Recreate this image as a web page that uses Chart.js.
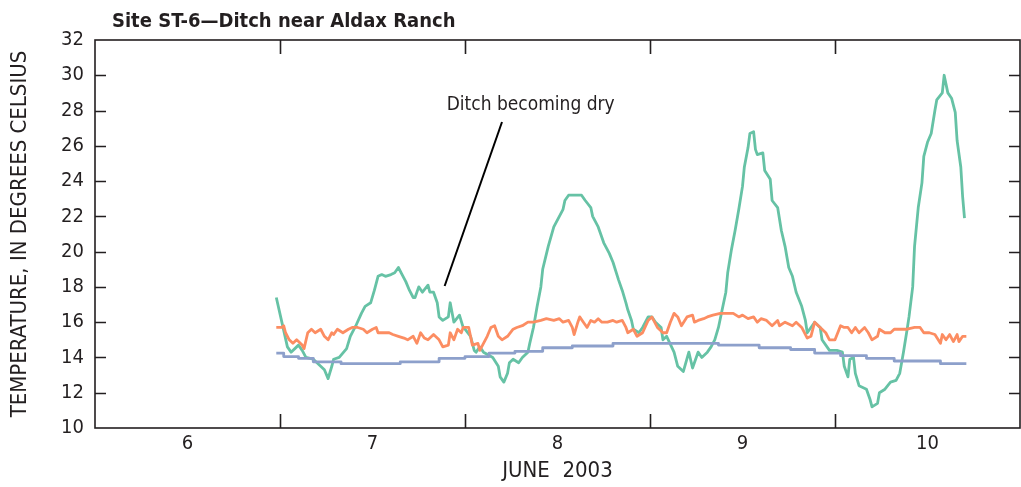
<!DOCTYPE html>
<html>
<head>
<meta charset="utf-8">
<title>Site ST-6 water temperature</title>
<script src="https://cdn.jsdelivr.net/npm/chart.js@4.4.1/dist/chart.umd.min.js"></script>
<style>
  html, body { margin: 0; padding: 0; background: #ffffff; overflow: hidden; }
  #wrap { width: 1021px; height: 487px; }
</style>
</head>
<body>
<div id="wrap"><canvas id="chart" width="1021" height="487"></canvas></div>
<script>
// ---- text ----
const chartTitle = 'Site ST-6\u2014Ditch near Aldax Ranch';
const xAxisTitle = 'JUNE  2003';
const yAxisTitle = 'TEMPERATURE, IN DEGREES CELSIUS';
const noteText = 'Ditch becoming dry';

// ---- axis ticks ----
const dayLabels = [6, 7, 8, 9, 10];          // labelled days (centred on each day)
const dayBoundaries = [6.5, 7.5, 8.5, 9.5];  // tick marks between days
const tempTicks = [10, 12, 14, 16, 18, 20, 22, 24, 26, 28, 30, 32];

// ---- note anchor (day, degrees C) ----
const noteAt = [7.855, 28.3];
const noteLineFrom = [7.70, 27.35];
const noteLineTo = [7.39, 18.05];

// ---- series A (green): day of June 2003, temperature in degrees C ----
const seriesADays = [
  6.48,6.51,6.54,6.56,6.59,6.60,6.62,6.64,6.68,6.74,
  6.76,6.78,6.79,6.82,6.86,6.88,6.91,6.94,6.96,6.99,
  7.01,7.03,7.05,7.07,7.10,7.12,7.14,7.16,7.18,7.20,
  7.22,7.23,7.25,7.27,7.30,7.31,7.33,7.35,7.36,7.38,
  7.41,7.42,7.44,7.47,7.49,7.50,7.53,7.55,7.56,7.58,
  7.60,7.65,7.68,7.69,7.71,7.73,7.74,7.76,7.79,7.81,
  7.84,7.85,7.87,7.89,7.91,7.92,7.95,7.98,8.01,8.03,
  8.04,8.06,8.10,8.13,8.15,8.18,8.19,8.22,8.23,8.25,
  8.28,8.30,8.33,8.35,8.37,8.38,8.40,8.41,8.44,8.46,
  8.49,8.51,8.53,8.56,8.57,8.59,8.63,8.65,8.68,8.71,
  8.73,8.76,8.78,8.81,8.83,8.85,8.87,8.89,8.91,8.92,
  8.94,8.96,8.98,9.00,9.01,9.03,9.04,9.06,9.07,9.08,
  9.11,9.12,9.15,9.16,9.19,9.21,9.23,9.25,9.27,9.29,
  9.32,9.34,9.35,9.37,9.39,9.42,9.43,9.47,9.51,9.54,
  9.55,9.57,9.58,9.60,9.61,9.63,9.67,9.69,9.70,9.73,
  9.74,9.77,9.80,9.83,9.85,9.87,9.89,9.90,9.92,9.93,
  9.95,9.97,9.98,10.00,10.02,10.04,10.05,10.08,10.09,10.11,
  10.13,10.15,10.16,10.18,10.19,10.20
];
const seriesATemps = [
  17.4,16.0,14.6,14.3,14.6,14.7,14.4,14.0,13.9,13.3,
  12.8,13.5,13.9,14.0,14.5,15.2,15.8,16.5,16.9,17.1,
  17.8,18.6,18.7,18.6,18.7,18.8,19.1,18.7,18.3,17.8,
  17.4,17.4,18.0,17.7,18.1,17.7,17.7,17.1,16.3,16.1,
  16.3,17.1,16.0,16.4,15.7,15.6,15.2,14.4,14.3,14.6,
  14.3,14.0,13.5,12.9,12.6,13.1,13.7,13.9,13.7,14.0,
  14.3,14.8,15.7,16.9,18.0,19.0,20.3,21.4,22.0,22.4,
  22.9,23.2,23.2,23.2,22.9,22.5,22.0,21.4,21.1,20.5,
  19.9,19.4,18.4,17.8,17.1,16.7,16.1,15.6,15.4,15.7,
  16.3,16.3,16.0,15.7,15.0,15.2,14.3,13.5,13.2,14.3,
  13.4,14.3,14.0,14.3,14.6,15.0,15.7,16.7,17.7,18.8,
  20.1,21.2,22.4,23.7,24.8,25.9,26.7,26.8,25.8,25.5,
  25.6,24.6,24.1,22.9,22.5,21.2,20.3,19.1,18.6,17.7,
  16.9,16.1,15.4,15.7,16.0,15.7,15.0,14.4,14.4,14.3,
  13.5,12.9,13.9,14.0,13.1,12.4,12.2,11.6,11.2,11.4,
  12.0,12.2,12.6,12.7,13.1,14.3,15.6,16.3,18.0,20.3,
  22.5,23.9,25.4,26.2,26.7,28.0,28.6,29.0,30.0,29.0,
  28.7,27.9,26.3,24.8,23.1,21.9
];

// ---- series B (orange) ----
const seriesBDays = [
  6.48,6.51,6.52,6.53,6.55,6.57,6.59,6.60,6.62,6.63,
  6.65,6.67,6.69,6.72,6.74,6.76,6.78,6.79,6.81,6.84,
  6.87,6.89,6.92,6.95,6.97,7.00,7.02,7.03,7.06,7.09,
  7.11,7.14,7.17,7.19,7.22,7.24,7.26,7.28,7.30,7.33,
  7.36,7.38,7.41,7.42,7.44,7.46,7.48,7.49,7.52,7.54,
  7.57,7.58,7.60,7.62,7.64,7.66,7.68,7.70,7.73,7.76,
  7.78,7.81,7.84,7.87,7.91,7.94,7.98,8.01,8.03,8.06,
  8.08,8.09,8.11,8.12,8.14,8.16,8.18,8.20,8.22,8.24,
  8.27,8.30,8.32,8.35,8.37,8.38,8.41,8.43,8.46,8.49,
  8.51,8.54,8.57,8.59,8.61,8.63,8.65,8.67,8.70,8.73,
  8.74,8.76,8.79,8.81,8.84,8.88,8.92,8.95,8.98,9.00,
  9.03,9.06,9.08,9.10,9.13,9.16,9.19,9.20,9.23,9.27,
  9.29,9.32,9.35,9.37,9.39,9.42,9.45,9.47,9.50,9.53,
  9.55,9.57,9.59,9.61,9.63,9.66,9.68,9.70,9.73,9.74,
  9.77,9.80,9.82,9.86,9.89,9.93,9.96,9.98,10.01,10.04,
  10.07,10.08,10.10,10.12,10.14,10.16,10.17,10.19,10.21
];
const seriesBTemps = [
  15.7,15.7,15.8,15.4,15.0,14.8,15.0,14.9,14.7,14.5,
  15.4,15.6,15.4,15.6,15.2,15.0,15.4,15.3,15.6,15.4,
  15.6,15.7,15.7,15.6,15.4,15.6,15.7,15.4,15.4,15.4,
  15.3,15.2,15.1,15.0,15.2,14.8,15.4,15.1,15.0,15.3,
  15.0,14.6,14.7,15.4,15.0,15.6,15.4,15.7,15.7,14.7,
  14.8,14.4,14.8,15.2,15.7,15.8,15.2,15.0,15.2,15.6,
  15.7,15.8,16.0,16.0,16.1,16.2,16.1,16.2,16.0,16.1,
  15.7,15.3,16.0,16.3,16.0,15.7,16.1,16.0,16.2,16.0,
  16.0,16.1,16.0,16.1,15.7,15.4,15.6,15.2,15.4,16.1,
  16.3,15.7,15.4,15.4,16.0,16.5,16.3,15.8,16.3,16.4,
  16.0,16.1,16.2,16.3,16.4,16.5,16.5,16.5,16.3,16.4,
  16.2,16.3,16.0,16.2,16.1,15.8,16.1,15.8,16.0,15.8,
  16.0,15.7,15.1,15.2,16.0,15.7,15.4,15.0,15.0,15.8,
  15.7,15.7,15.4,15.7,15.4,15.7,15.4,15.0,15.2,15.6,
  15.4,15.4,15.6,15.6,15.6,15.7,15.7,15.4,15.4,15.3,
  14.8,15.3,15.0,15.3,14.9,15.3,14.9,15.2,15.2
];

// ---- series C (blue, stepped) ----
const seriesCDays = [6.48,6.52,6.60,6.68,6.83,7.15,7.36,7.50,7.63,7.77,7.92,
                     8.08,8.30,8.87,9.09,9.26,9.39,9.53,9.67,9.82,10.07,10.21];
const seriesCTemps = [14.25,14.05,13.95,13.75,13.65,13.75,13.95,14.05,14.25,14.35,14.55,
                      14.65,14.8,14.7,14.55,14.45,14.25,14.1,13.95,13.8,13.65,13.65];

// ---- styling ----
const FONT = "'Liberation Sans Narrow', 'DejaVu Sans Condensed', 'Arial Narrow', sans-serif";
const INK = '#231f20';
const GREEN = '#66c2a5';
const ORANGE = '#fc8d62';
const BLUE = '#8da0cb';

const toPoints = (xs, ys) => xs.map((x, i) => ({ x, y: ys[i] }));

// Frame, inward tick marks, the note with its leader line, and the title.
const decorations = {
  id: 'decorations',
  afterDraw(chart) {
    const { ctx, chartArea: a, scales: { x, y } } = chart;
    ctx.save();
    ctx.strokeStyle = INK;
    ctx.lineWidth = 1.6;
    ctx.lineCap = 'butt';
    ctx.strokeRect(a.left, a.top, a.right - a.left, a.bottom - a.top);

    ctx.beginPath();
    tempTicks.forEach(v => {
      if (v === y.min || v === y.max) return;
      const py = Math.round(y.getPixelForValue(v)) + 0.5;
      ctx.moveTo(a.left, py); ctx.lineTo(a.left + 11, py);
      ctx.moveTo(a.right - 11, py); ctx.lineTo(a.right, py);
    });
    dayBoundaries.forEach(v => {
      const px = Math.round(x.getPixelForValue(v)) + 0.5;
      ctx.moveTo(px, a.bottom); ctx.lineTo(px, a.bottom - 14);
      ctx.moveTo(px, a.top); ctx.lineTo(px, a.top + 14);
    });
    ctx.stroke();

    // leader line to the dry-ditch segment
    ctx.lineWidth = 2;
    ctx.strokeStyle = '#000000';
    ctx.beginPath();
    ctx.moveTo(x.getPixelForValue(noteLineFrom[0]), y.getPixelForValue(noteLineFrom[1]));
    ctx.lineTo(x.getPixelForValue(noteLineTo[0]), y.getPixelForValue(noteLineTo[1]));
    ctx.stroke();

    ctx.fillStyle = INK;
    ctx.font = `19px ${FONT}`;
    ctx.textAlign = 'center';
    ctx.textBaseline = 'middle';
    ctx.fillText(noteText, x.getPixelForValue(noteAt[0]), y.getPixelForValue(noteAt[1]));

    ctx.font = `bold 20px ${FONT}`;
    ctx.textAlign = 'left';
    ctx.textBaseline = 'alphabetic';
    ctx.fillText(chartTitle, a.left + 17, 27);
    ctx.restore();
  }
};

new Chart(document.getElementById('chart'), {
  type: 'line',
  data: {
    datasets: [
      { data: toPoints(seriesCDays, seriesCTemps), borderColor: BLUE, stepped: true },
      { data: toPoints(seriesBDays, seriesBTemps), borderColor: ORANGE },
      { data: toPoints(seriesADays, seriesATemps), borderColor: GREEN }
    ]
  },
  options: {
    responsive: false,
    animation: false,
    events: [],
    layout: { padding: { top: 40, right: 1, left: 0, bottom: 0 } },
    elements: {
      point: { radius: 0 },
      line: { borderWidth: 2.8, tension: 0, borderJoinStyle: 'round', fill: false }
    },
    plugins: { legend: { display: false }, tooltip: { enabled: false }, title: { display: false } },
    scales: {
      x: {
        type: 'linear',
        min: 5.5, max: 10.5,
        afterBuildTicks: s => { s.ticks = dayLabels.map(v => ({ value: v })); },
        afterFit: s => { s.height = 59; },
        grid: { display: false, drawTicks: false },
        border: { display: false },
        ticks: { color: INK, font: { family: FONT, size: 20 }, padding: 4, maxRotation: 0, autoSkip: false,
                  callback: v => String(v) },
        title: { display: true, text: xAxisTitle, color: INK, font: { family: FONT, size: 22 },
                 padding: { top: 0, bottom: 3 } }
      },
      y: {
        min: 10, max: 32,
        afterBuildTicks: s => { s.ticks = tempTicks.map(v => ({ value: v })); },
        afterFit: s => { s.width = 95; },
        grid: { display: false, drawTicks: false },
        border: { display: false },
        ticks: { color: INK, font: { family: FONT, size: 20 }, padding: 11 },
        title: { display: true, text: yAxisTitle, color: INK, font: { family: FONT, size: 22 },
                 padding: { top: 7, bottom: 0 } }
      }
    }
  },
  plugins: [decorations]
});
</script>
</body>
</html>
